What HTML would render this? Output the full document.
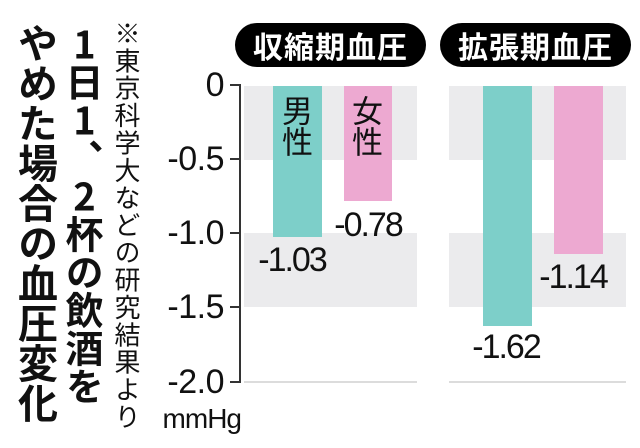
<!DOCTYPE html>
<html><head><meta charset="utf-8">
<style>
*{margin:0;padding:0;box-sizing:border-box}
html,body{width:640px;height:448px;background:#fff;overflow:hidden}
body{position:relative;font-family:"Liberation Sans","Noto Sans CJK JP",sans-serif;color:#111}
.a{position:absolute}
.vt{position:absolute;writing-mode:vertical-rl;text-orientation:upright;font-family:"Noto Sans CJK JP","Liberation Sans",sans-serif;white-space:nowrap}
.band{position:absolute;background:#ebebed}
.bar{position:absolute}
.teal{background:#7dcfc9}
.pink{background:#eda9d1}
.tick{position:absolute;left:230px;width:11px;height:2px;background:#333}
.tl{position:absolute;right:416px;width:90px;text-align:right;font-size:34px;line-height:34px;letter-spacing:-0.5px}
.val{position:absolute;width:100px;text-align:center;font-size:34px;line-height:34px;letter-spacing:-2px}
.pill{position:absolute;top:23px;height:44px;border-radius:22px;background:#000;color:#fff;font-family:"Noto Sans CJK JP",sans-serif;font-weight:700;font-size:30px;letter-spacing:1px;display:flex;align-items:center;justify-content:center;line-height:44px}
.dl{position:absolute;height:2px;background:#dcdcdc}
</style></head><body>

<!-- left title columns -->
<div class="vt" style="left:18px;top:23px;font-size:40px;line-height:40px;width:40px;font-weight:700;">やめた場合の血圧変化</div>
<div class="vt" style="left:65px;top:25px;font-size:38px;line-height:38px;width:38px;font-weight:700;">1日1、2杯の飲酒を</div>
<div class="vt" style="left:114px;top:20px;font-size:26px;line-height:26px;width:26px;letter-spacing:1.4px;font-weight:400;">※東京科学大などの研究結果より</div>

<!-- pills -->
<div class="pill" style="left:235px;width:191px;">収縮期血圧</div>
<div class="pill" style="left:440px;width:191px;">拡張期血圧</div>

<!-- bands -->
<div class="band" style="left:244px;top:86px;width:173px;height:74px"></div>
<div class="band" style="left:244px;top:233px;width:173px;height:74px"></div>
<div class="band" style="left:449px;top:86px;width:177px;height:74px"></div>
<div class="band" style="left:449px;top:233px;width:177px;height:74px"></div>
<div class="dl" style="left:244px;top:381px;width:173px"></div>
<div class="dl" style="left:449px;top:381px;width:177px"></div>

<!-- bars -->
<div class="bar teal" style="left:273px;top:86px;width:49px;height:151px"></div>
<div class="bar pink" style="left:344px;top:86px;width:48px;height:115px"></div>
<div class="bar teal" style="left:483px;top:86px;width:49px;height:240px"></div>
<div class="bar pink" style="left:554px;top:86px;width:49px;height:168px"></div>

<div class="vt" style="left:282px;top:95px;font-size:31px;line-height:31px;width:31px;font-weight:400;">男性</div>
<div class="vt" style="left:352px;top:95px;font-size:31px;line-height:31px;width:31px;font-weight:400;">女性</div>

<!-- axis -->
<div class="a" style="left:239px;top:85px;width:2px;height:298px;background:#333"></div>
<div class="tick" style="top:84px"></div>
<div class="tick" style="top:158px"></div>
<div class="tick" style="top:232px"></div>
<div class="tick" style="top:306px"></div>
<div class="tick" style="top:381px"></div>

<div class="tl" style="top:68px">0</div>
<div class="tl" style="top:142px">-0.5</div>
<div class="tl" style="top:216px">-1.0</div>
<div class="tl" style="top:290px">-1.5</div>
<div class="tl" style="top:365px">-2.0</div>
<div class="a" style="right:399px;top:405px;font-size:28px;line-height:28px;letter-spacing:-1px">mmHg</div>

<!-- values -->
<div class="val" style="left:242px;top:243px">-1.03</div>
<div class="val" style="left:318px;top:208px">-0.78</div>
<div class="val" style="left:456px;top:330px">-1.62</div>
<div class="val" style="left:523px;top:260px">-1.14</div>

</body></html>
